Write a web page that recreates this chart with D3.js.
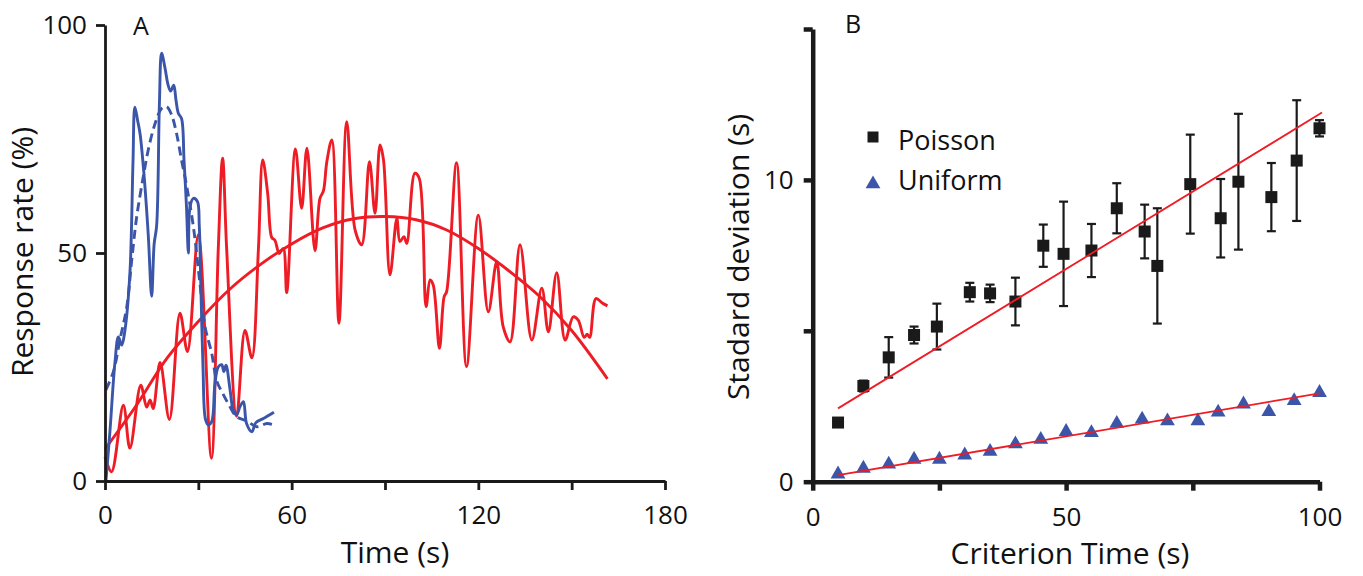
<!DOCTYPE html>
<html>
<head>
<meta charset="utf-8">
<script src="https://cdn.jsdelivr.net/npm/d3@7"></script>
<style>
  body { margin: 0; background: #fff; }
  text { font-family: "Open Sans", sans-serif; fill: #111; }
</style>
</head>
<body>
<svg id="chart" width="1363" height="576"></svg>
<script>
// ---- panel A data: [time (s), response rate (%)]
var timeTicks = [0, 30, 60, 90, 120, 150, 180];
var timeLabels = [0, 60, 120, 180];
var rateTicks = [0, 50, 100];

var blueSolid = [
  [0.3, 0], [1.6, 11], [3.2, 26], [4.3, 31.6], [5.4, 29.8], [6.4, 33], [8, 45.5], [9, 70],
  [9.6, 82], [10.5, 79], [11.3, 76], [12.5, 67.5], [13.9, 54], [15, 40.5], [15.8, 52],
  [16.6, 56], [17.5, 83], [18.2, 93.8], [19.3, 90.5], [20.3, 86.8], [21.1, 85.5], [22.1, 86.8],
  [22.8, 83.6], [23.6, 80.6], [24.6, 79.5], [25.4, 70.4], [26.2, 60], [26.8, 50], [27.3, 60],
  [28.4, 62], [29.7, 61.3], [30.3, 56], [30.8, 43], [31.5, 25], [32.3, 13.5], [33.2, 12.3],
  [34.3, 13], [35.3, 21], [36.4, 25], [37.5, 25.5], [38.2, 24], [38.9, 25.4], [40.2, 20],
  [41.2, 15.6], [42.3, 14.5], [43.4, 16.3], [44.5, 17.4], [45.5, 12.6], [47.2, 10.8],
  [48.5, 12.8], [50.9, 13.7], [54.3, 15.1]
];

var blueDashed = [
  [0.3, 20], [2.7, 24], [4.8, 31], [7, 38.2], [8.6, 48.5], [10.2, 58], [12.3, 66.7],
  [13.9, 72.6], [16.1, 78.4], [18.2, 81.7], [19.8, 82.1], [21.4, 80.3], [23, 76.2],
  [24.6, 70.4], [26.3, 64.5], [28.4, 55.8], [30.5, 43.4], [32.1, 34], [34.3, 28], [35.9, 22],
  [38, 19], [40, 16.5], [42.3, 14.1], [45.5, 13.2], [48.8, 11.9], [52, 12.6], [54.3, 12.3]
];

var redTrace = [
  [0, 5.3], [2.1, 2], [5.9, 16.6], [8, 7.2], [11.5, 21], [13.4, 16.2], [14.5, 17.8],
  [15.5, 15.9], [17.7, 26], [20.7, 13.5], [24.1, 36.8], [26.5, 28.4], [30, 54], [34.2, 5],
  [36.4, 50.7], [37.8, 70.8], [39.1, 51], [42.3, 14.2], [45, 33], [47.2, 27], [49.3, 50.7],
  [50.7, 70.4], [52.3, 63], [53.6, 53.4], [54.6, 52.8], [56, 49.9], [57.3, 51], [58.4, 41.3],
  [61.2, 72.8], [63.2, 59.8], [64.9, 73], [67.5, 50.5], [69.1, 62], [70.2, 63.6], [71.3, 70],
  [72.9, 74.8], [75.2, 34.6], [77.7, 78.8], [80.4, 55], [82.5, 51.8], [85, 70], [86.8, 58.7],
  [88.4, 73.7], [89.5, 70.5], [91.6, 45.2], [93.8, 57.6], [94.8, 52.5], [96.1, 53.6],
  [97, 52.1], [99.6, 67.5], [101, 66.4], [103.2, 38.2], [104.5, 44.1], [105.5, 43],
  [107.5, 29.1], [109, 40.4], [109.8, 41.5], [113, 69.8], [116.2, 25.1], [120, 58.3],
  [123.2, 37.1], [125.9, 48.1], [128, 33.8], [130.2, 30.5], [133.4, 51.8], [137.2, 30.9],
  [140.4, 42.3], [142.5, 32.7], [145.2, 45.7], [147.9, 30.9], [150.5, 36], [152.1, 35.3],
  [154, 31.5], [155, 32.2], [155.8, 31.5], [157.8, 40], [159.7, 39.1], [161.5, 38.4]
];

var redFit = [
  [0, 7], [10, 16.5], [20, 27], [30, 35], [40, 42], [50, 47.5], [60, 52], [70, 55.5],
  [80, 57.5], [90, 58], [100, 57.3], [110, 55], [120, 51], [130, 46], [140, 40.3],
  [150, 33], [161.5, 22.4]
];

// ---- panel B data
var critTicks = [0, 25, 50, 75, 100];
var critLabels = [0, 50, 100];
var sdTicks = [0, 5, 10, 15];
var sdLabels = [0, 10];

var poissonTime = [5, 10, 15, 20, 24.5, 31, 35, 40, 45.5, 49.5, 55, 60, 65.5, 68, 74.5, 80.5, 84, 90.5, 95.5, 100];
var poissonSD = [1.96, 3.17, 4.12, 4.86, 5.14, 6.28, 6.24, 5.97, 7.82, 7.55, 7.66, 9.06, 8.29, 7.15, 9.86, 8.73, 9.94, 9.43, 10.64, 11.71];
var poissonErr = [0, 0.18, 0.67, 0.28, 0.76, 0.31, 0.29, 0.79, 0.7, 1.73, 0.88, 0.83, 0.89, 1.91, 1.64, 1.3, 2.25, 1.13, 2.0, 0.27];

var uniformTime = [5, 10, 15, 20, 25, 30, 35, 40, 45, 50, 55, 60, 65, 70, 76, 80, 85, 90, 95, 100];
var uniformSD = [0.25, 0.44, 0.58, 0.74, 0.74, 0.88, 1.0, 1.25, 1.4, 1.66, 1.62, 1.93, 2.07, 2.01, 2.01, 2.3, 2.57, 2.32, 2.68, 2.95];

var poissonFit = [[5, 2.43], [100.5, 12.23]];
var uniformFit = [[5, 0.22], [100, 2.93]];

var BLUE = "#3b56a9", RED = "#ee1c25";

var svg = d3.select("#chart");

// ================= Panel A =================
var xA = d3.scaleLinear().domain([0, 180]).range([105, 665]),
    yA = d3.scaleLinear().domain([0, 100]).range([481, 25]);

var lineA = d3.line()
  .x(function (d) { return xA(d[0]); })
  .y(function (d) { return yA(d[1]); })
  .curve(d3.curveCatmullRom.alpha(0.5));

var gA = svg.append("g");

gA.append("path").datum(redFit)
  .attr("d", lineA).attr("fill", "none").attr("stroke", RED).attr("stroke-width", 2.9);

gA.append("path").datum(redTrace)
  .attr("d", lineA).attr("fill", "none").attr("stroke", RED).attr("stroke-width", 2.9)
  .attr("stroke-linejoin", "round");

gA.append("path").datum(blueDashed)
  .attr("d", lineA).attr("fill", "none").attr("stroke", BLUE).attr("stroke-width", 2.9)
  .attr("stroke-dasharray", "9,5");

gA.append("path").datum(blueSolid)
  .attr("d", lineA).attr("fill", "none").attr("stroke", BLUE).attr("stroke-width", 2.9)
  .attr("stroke-linejoin", "round");

var axA_x = gA.append("g")
  .attr("transform", "translate(0," + yA(0) + ")")
  .call(d3.axisBottom(xA).tickValues(timeTicks).tickSize(9).tickSizeOuter(0).tickPadding(16)
    .tickFormat(function (d) { return timeLabels.indexOf(d) >= 0 ? d : ""; }));

var axA_y = gA.append("g")
  .attr("transform", "translate(" + xA(0) + ",0)")
  .call(d3.axisLeft(yA).tickValues(rateTicks).tickSize(9).tickSizeOuter(0).tickPadding(9));

[axA_x, axA_y].forEach(function (a) {
  a.selectAll("path, line").attr("stroke", "#1a1a1a").attr("stroke-width", 2.8);
  a.selectAll("text").style("font-size", "26px").style("font-family", "Open Sans").attr("fill", "#111");
});

gA.append("text").attr("x", 395).attr("y", 563).attr("text-anchor", "middle")
  .style("font-size", "30px").text("Time (s)");

gA.append("text").attr("text-anchor", "middle")
  .attr("transform", "translate(33,252)rotate(-90)")
  .style("font-size", "30px").text("Response rate (%)");

gA.append("text").attr("x", 133).attr("y", 35).style("font-size", "25px").text("A");

// ================= Panel B =================
var xB = d3.scaleLinear().domain([0, 100]).range([812.7, 1319.5]),
    yB = d3.scaleLinear().domain([0, 15]).range([481.7, 29]);

var lineB = d3.line()
  .x(function (d) { return xB(d[0]); })
  .y(function (d) { return yB(d[1]); });

var gB = svg.append("g");

var axB_x = gB.append("g")
  .attr("transform", "translate(0," + yB(0) + ")")
  .call(d3.axisBottom(xB).tickValues(critTicks).tickSize(9).tickSizeOuter(0).tickPadding(17)
    .tickFormat(function (d) { return critLabels.indexOf(d) >= 0 ? d : ""; }));

var axB_y = gB.append("g")
  .attr("transform", "translate(" + xB(0) + ",0)")
  .call(d3.axisLeft(yB).tickValues(sdTicks).tickSize(9).tickSizeOuter(0).tickPadding(10)
    .tickFormat(function (d) { return sdLabels.indexOf(d) >= 0 ? d : ""; }));

[axB_x, axB_y].forEach(function (a) {
  a.selectAll("path, line").attr("stroke", "#1a1a1a").attr("stroke-width", 4.5);
  a.selectAll("text").style("font-size", "26px").style("font-family", "Open Sans").attr("fill", "#111");
});

// error bars
var poisson = poissonTime.map(function (t, i) { return { t: t, sd: poissonSD[i], err: poissonErr[i] }; });
var eb = gB.append("g").selectAll("g").data(poisson.filter(function (d) { return d.err > 0.1; }))
  .enter().append("g").attr("stroke", "#1a1a1a").attr("stroke-width", 2.2);
eb.append("line")
  .attr("x1", function (d) { return xB(d.t); }).attr("x2", function (d) { return xB(d.t); })
  .attr("y1", function (d) { return yB(d.sd - d.err); }).attr("y2", function (d) { return yB(d.sd + d.err); });
eb.append("line")
  .attr("x1", function (d) { return xB(d.t) - 4.5; }).attr("x2", function (d) { return xB(d.t) + 4.5; })
  .attr("y1", function (d) { return yB(d.sd + d.err); }).attr("y2", function (d) { return yB(d.sd + d.err); });
eb.append("line")
  .attr("x1", function (d) { return xB(d.t) - 4.5; }).attr("x2", function (d) { return xB(d.t) + 4.5; })
  .attr("y1", function (d) { return yB(d.sd - d.err); }).attr("y2", function (d) { return yB(d.sd - d.err); });

// squares
gB.append("g").selectAll("rect").data(poisson).enter().append("rect")
  .attr("x", function (d) { return xB(d.t) - 6; })
  .attr("y", function (d) { return yB(d.sd) - 6; })
  .attr("width", 12).attr("height", 12).attr("fill", "#1a1a1a");

// triangles
var tri = d3.symbol().type(d3.symbolTriangle).size(95);
gB.append("g").selectAll("path").data(uniformTime).enter().append("path")
  .attr("d", tri)
  .attr("transform", function (d, i) { return "translate(" + xB(d) + "," + yB(uniformSD[i]) + ")"; })
  .attr("fill", BLUE);

// fit lines
gB.append("path").datum(poissonFit).attr("d", lineB)
  .attr("stroke", RED).attr("stroke-width", 1.8).attr("fill", "none");
gB.append("path").datum(uniformFit).attr("d", lineB)
  .attr("stroke", RED).attr("stroke-width", 1.8).attr("fill", "none");

// legend
gB.append("rect").attr("x", 867.5).attr("y", 131.5).attr("width", 11).attr("height", 11).attr("fill", "#1a1a1a");
gB.append("text").attr("x", 898).attr("y", 150).style("font-size", "27px").text("Poisson");
gB.append("path").attr("d", tri).attr("transform", "translate(873,184)").attr("fill", BLUE);
gB.append("text").attr("x", 898).attr("y", 190).style("font-size", "27px").text("Uniform");

gB.append("text").attr("x", 1070).attr("y", 564).attr("text-anchor", "middle")
  .style("font-size", "30px").text("Criterion Time (s)");

gB.append("text").attr("text-anchor", "middle")
  .attr("transform", "translate(749,257)rotate(-90)")
  .style("font-size", "30px").text("Stadard deviation (s)");

gB.append("text").attr("x", 845).attr("y", 33).style("font-size", "25px").text("B");
</script>
</body>
</html>
